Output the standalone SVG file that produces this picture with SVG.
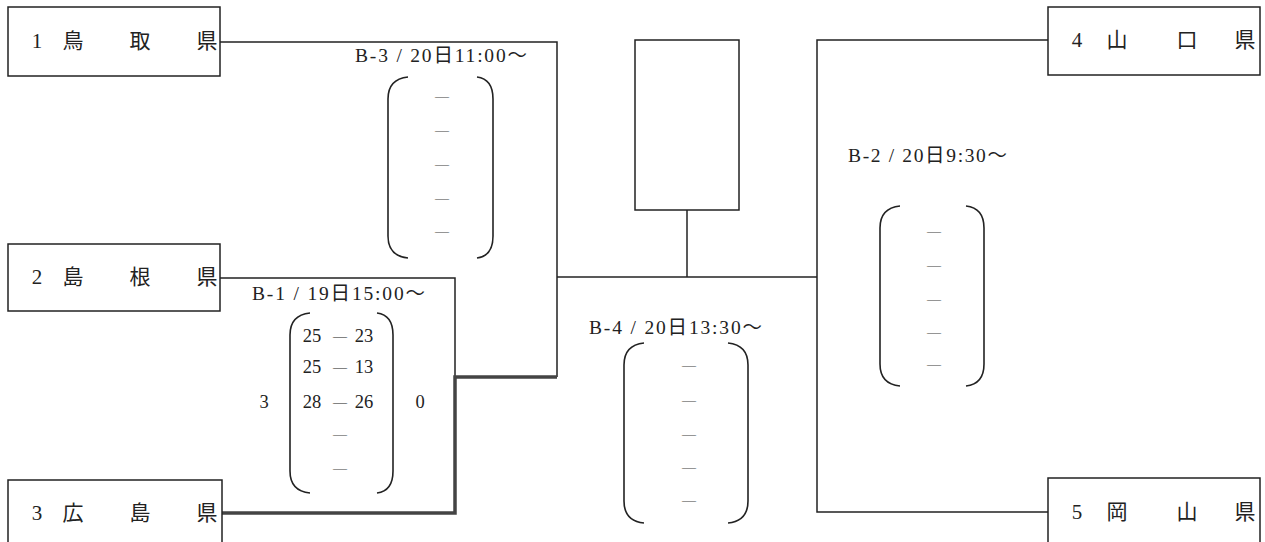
<svg xmlns="http://www.w3.org/2000/svg" width="1265" height="542" viewBox="0 0 1265 542">
<style>
.box{fill:#fff;stroke:#222;stroke-width:1.5}
.ln{fill:none;stroke:#222;stroke-width:1.5}
.win{fill:none;stroke:#444;stroke-width:3.5}
.par{fill:none;stroke:#222;stroke-width:1.6}
.t{font-family:"Liberation Serif","Noto Sans CJK JP",serif;fill:#222}
.k{font-size:21px;text-anchor:middle;dominant-baseline:central}
.lab{font-size:19.5px}
.sc{font-size:18.5px;text-anchor:middle}
.sd{font-size:14px}
.d{font-family:"Liberation Serif",serif;font-size:14px;text-anchor:middle;fill:#444}
</style>
<rect width="1265" height="542" fill="#fff"/>
<g id="connectors">
<polyline class="ln" points="220,42 557,42 557,377"/>
<polyline class="ln" points="220,278 455,278 455,377"/>
<polyline class="win" points="222,513 455,513 455,377 557,377"/>
<line class="ln" x1="557" y1="277" x2="817" y2="277"/>
<line class="ln" x1="687" y1="210" x2="687" y2="277"/>
<polyline class="ln" points="1048,40 817,40 817,512 1048,512"/>
</g>
<g id="node-1">
<rect class="box" x="8" y="7" width="212" height="69"/>
<text class="t k" y="41"><tspan x="37">1</tspan><tspan x="73">鳥</tspan><tspan x="140">取</tspan><tspan x="207">県</tspan></text>
</g>
<g id="node-2">
<rect class="box" x="8" y="244" width="212" height="67"/>
<text class="t k" y="277"><tspan x="37">2</tspan><tspan x="73">島</tspan><tspan x="140">根</tspan><tspan x="207">県</tspan></text>
</g>
<g id="node-3">
<rect class="box" x="8" y="480" width="214" height="70"/>
<text class="t k" y="513"><tspan x="37">3</tspan><tspan x="73">広</tspan><tspan x="140">島</tspan><tspan x="207">県</tspan></text>
</g>
<g id="node-4">
<rect class="box" x="1048" y="7" width="212" height="68"/>
<text class="t k" y="40"><tspan x="1077">4</tspan><tspan x="1117">山</tspan><tspan x="1187">口</tspan><tspan x="1245">県</tspan></text>
</g>
<g id="node-5">
<rect class="box" x="1048" y="478" width="212" height="72"/>
<text class="t k" y="512"><tspan x="1077">5</tspan><tspan x="1117">岡</tspan><tspan x="1187">山</tspan><tspan x="1245">県</tspan></text>
</g>
<g id="node-center">
<rect class="box" x="635" y="40" width="104" height="170"/>
</g>
<g id="match-B3">
<text class="t lab" x="355" y="62" textLength="172" lengthAdjust="spacing">B-3 / 20日11:00～</text>
<path class="par" d="M408,77 Q388,79 388,99 L388,236 Q388,256 408,258"/>
<path class="par" d="M477,77 Q493,79 493,99 L493,236 Q493,256 477,258"/>
<text class="d" x="442" y="101">—</text>
<text class="d" x="442" y="135">—</text>
<text class="d" x="442" y="169">—</text>
<text class="d" x="442" y="203">—</text>
<text class="d" x="442" y="236">—</text>
</g>
<g id="match-B1">
<text class="t lab" x="252" y="300" textLength="173" lengthAdjust="spacing">B-1 / 19日15:00～</text>
<path class="par" d="M310,313 Q290,315 290,335 L290,471 Q290,491 310,493"/>
<path class="par" d="M377,313 Q393,315 393,335 L393,471 Q393,491 377,493"/>
<text class="t sc" y="342"><tspan x="312">25</tspan><tspan class="sd" x="340" dy="-1">—</tspan><tspan x="364" dy="1">23</tspan></text>
<text class="t sc" y="373"><tspan x="312">25</tspan><tspan class="sd" x="340" dy="-1">—</tspan><tspan x="364" dy="1">13</tspan></text>
<text class="t sc" y="408"><tspan x="312">28</tspan><tspan class="sd" x="340" dy="-1">—</tspan><tspan x="364" dy="1">26</tspan></text>
<text class="d" x="340" y="439">—</text>
<text class="d" x="340" y="473">—</text>
<text class="t sc" x="264" y="408">3</text>
<text class="t sc" x="420" y="408">0</text>
</g>
<g id="match-B4">
<text class="t lab" x="589" y="334" textLength="173" lengthAdjust="spacing">B-4 / 20日13:30～</text>
<path class="par" d="M644,343 Q624,345 624,365 L624,501 Q624,521 644,523"/>
<path class="par" d="M728,343 Q748,345 748,365 L748,501 Q748,521 728,523"/>
<text class="d" x="689" y="370">—</text>
<text class="d" x="689" y="405">—</text>
<text class="d" x="689" y="439">—</text>
<text class="d" x="689" y="472">—</text>
<text class="d" x="689" y="505">—</text>
</g>
<g id="match-B2">
<text class="t lab" x="848" y="162" textLength="159" lengthAdjust="spacing">B-2 / 20日9:30～</text>
<path class="par" d="M900,206 Q880,208 880,228 L880,364 Q880,384 900,386"/>
<path class="par" d="M966,206 Q984,208 984,228 L984,364 Q984,384 966,386"/>
<text class="d" x="934" y="236">—</text>
<text class="d" x="934" y="270">—</text>
<text class="d" x="934" y="304">—</text>
<text class="d" x="934" y="337">—</text>
<text class="d" x="934" y="369">—</text>
</g>
</svg>
